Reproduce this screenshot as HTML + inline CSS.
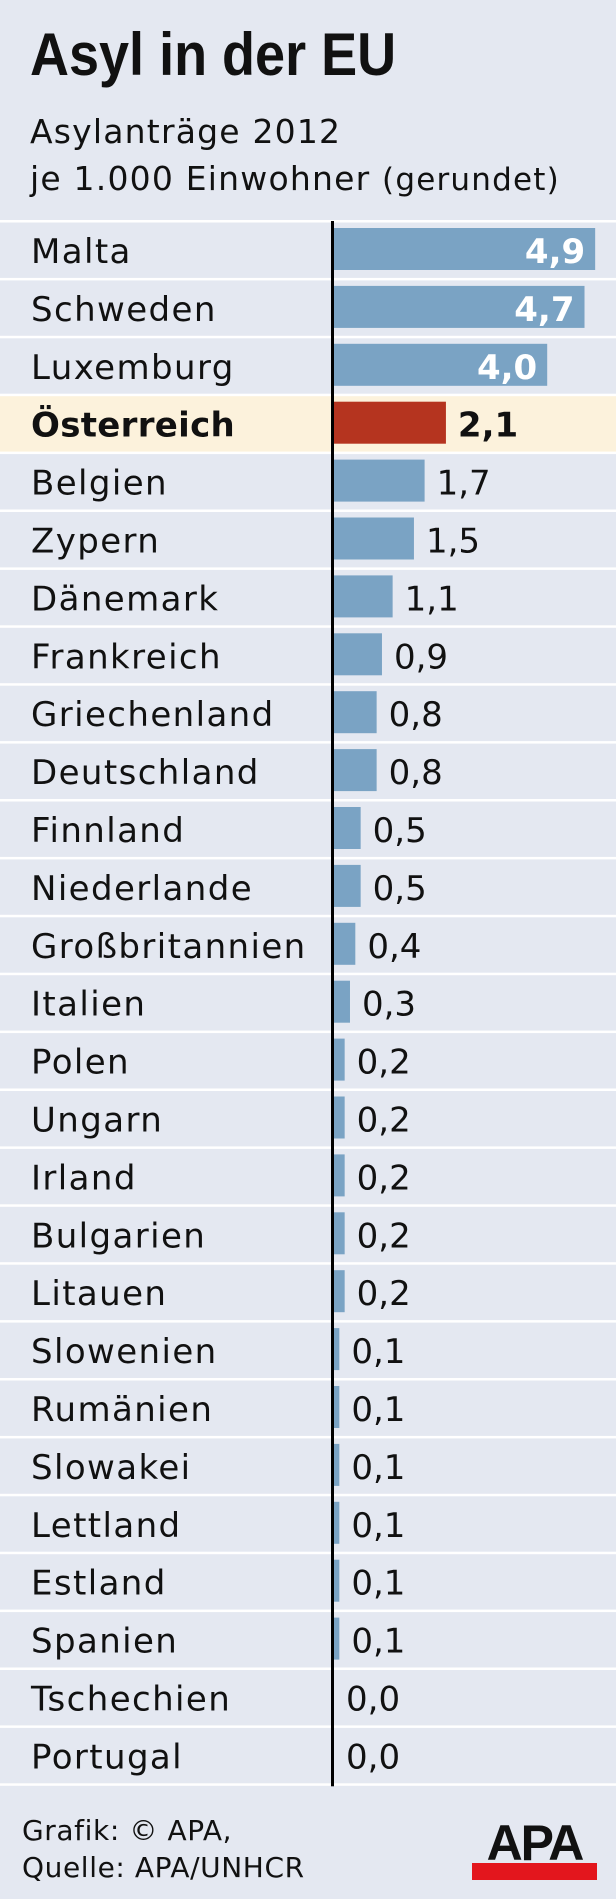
<!DOCTYPE html>
<html><head><meta charset="utf-8">
<style>
body{margin:0;background:#e4e8f1;}
#c{position:relative;width:616px;height:1899px;background:#e4e8f1;overflow:hidden;font-family:"DejaVu Sans","Liberation Sans",sans-serif;color:#111;}
.t{position:absolute;white-space:nowrap;}
</style></head>
<body>
<div id="c">
<div class="t" style="left:30px;top:20px;font-family:'Liberation Sans',sans-serif;font-weight:bold;font-size:60px;transform:scaleX(0.9);transform-origin:0 0;">Asyl in der EU</div>
<div class="t" style="left:30px;top:108px;font-size:33px;letter-spacing:1.2px;line-height:47px;">Asylanträge 2012<br>je 1.000 Einwohner <span style="font-size:31px">(gerundet)</span></div>
<svg id="s" width="616" height="1899" style="position:absolute;left:0;top:0"></svg>
<div class="t" style="left:22px;top:1812px;font-size:28px;letter-spacing:0.6px;line-height:37px;">Grafik: © APA,<br>Quelle: APA/UNHCR</div>
<div style="position:absolute;left:472px;top:1822px;width:125px;height:58px;">
<div class="t" style="left:0;top:-8px;width:125px;text-align:center;font-family:'Liberation Sans',sans-serif;font-weight:bold;font-size:50px;letter-spacing:-2px;">APA</div>
<div style="position:absolute;left:0;top:41px;width:125px;height:17px;background:#e3161d"></div>
</div>
</div>
<script>
const countries=["Malta","Schweden","Luxemburg","Österreich","Belgien","Zypern","Dänemark","Frankreich","Griechenland","Deutschland","Finnland","Niederlande","Großbritannien","Italien","Polen","Ungarn","Irland","Bulgarien","Litauen","Slowenien","Rumänien","Slowakei","Lettland","Estland","Spanien","Tschechien","Portugal"];
const values=[4.9,4.7,4.0,2.1,1.7,1.5,1.1,0.9,0.8,0.8,0.5,0.5,0.4,0.3,0.2,0.2,0.2,0.2,0.2,0.1,0.1,0.1,0.1,0.1,0.1,0.0,0.0];
const labels=["4,9","4,7","4,0","2,1","1,7","1,5","1,1","0,9","0,8","0,8","0,5","0,5","0,4","0,3","0,2","0,2","0,2","0,2","0,2","0,1","0,1","0,1","0,1","0,1","0,1","0,0","0,0"];
const highlight="Österreich";
const NS="http://www.w3.org/2000/svg";
const s=document.getElementById('s');
const x0=334,unit=53.3,top0=221,pitch=57.9;
const xs=v=>x0+v*unit;
const ys=i=>top0+i*pitch;
function mk(t,a){const e=document.createElementNS(NS,t);for(const k in a)e.setAttribute(k,a[k]);s.appendChild(e);return e;}
countries.forEach((c,i)=>{
  const y=ys(i);const hl=c===highlight;
  const row=mk('rect',{x:0,y:y,width:616,height:pitch,fill:hl?'#fcf2dc':'#e4e8f1'});
  
  
  const sep=mk('rect',{x:0,y:y-1,width:616,height:2.5,fill:'#ffffff'});
  
  
  const lb=mk('text',{x:31,y:y+42,'font-size':34,'letter-spacing':hl?0.3:1.4,fill:'#111','font-weight':hl?'bold':'normal'});
  lb.textContent=c;
  
  
  const v=values[i];
  if(v>0){
    const b=mk('rect',{x:x0,y:y+7,width:xs(v)-x0,height:42,fill:hl?'#b5341f':'#7aa3c4'});
    
    
  }
  const inside=v>=3;
  const vt=mk('text',{x:inside?xs(v)-10:xs(v)+12,y:y+42,'font-size':34,'text-anchor':inside?'end':'start',fill:inside?'#fff':'#111','font-weight':(inside||hl)?'bold':'normal'});
  vt.textContent=labels[i];
  
  
});
const lastSep=mk('rect',{x:0,y:ys(countries.length)-1,width:616,height:2.5,fill:'#ffffff'});


const ax=mk('rect',{x:x0-3,y:top0,width:3,height:ys(countries.length)-top0+2,fill:'#000'});


</script>
</body></html>
